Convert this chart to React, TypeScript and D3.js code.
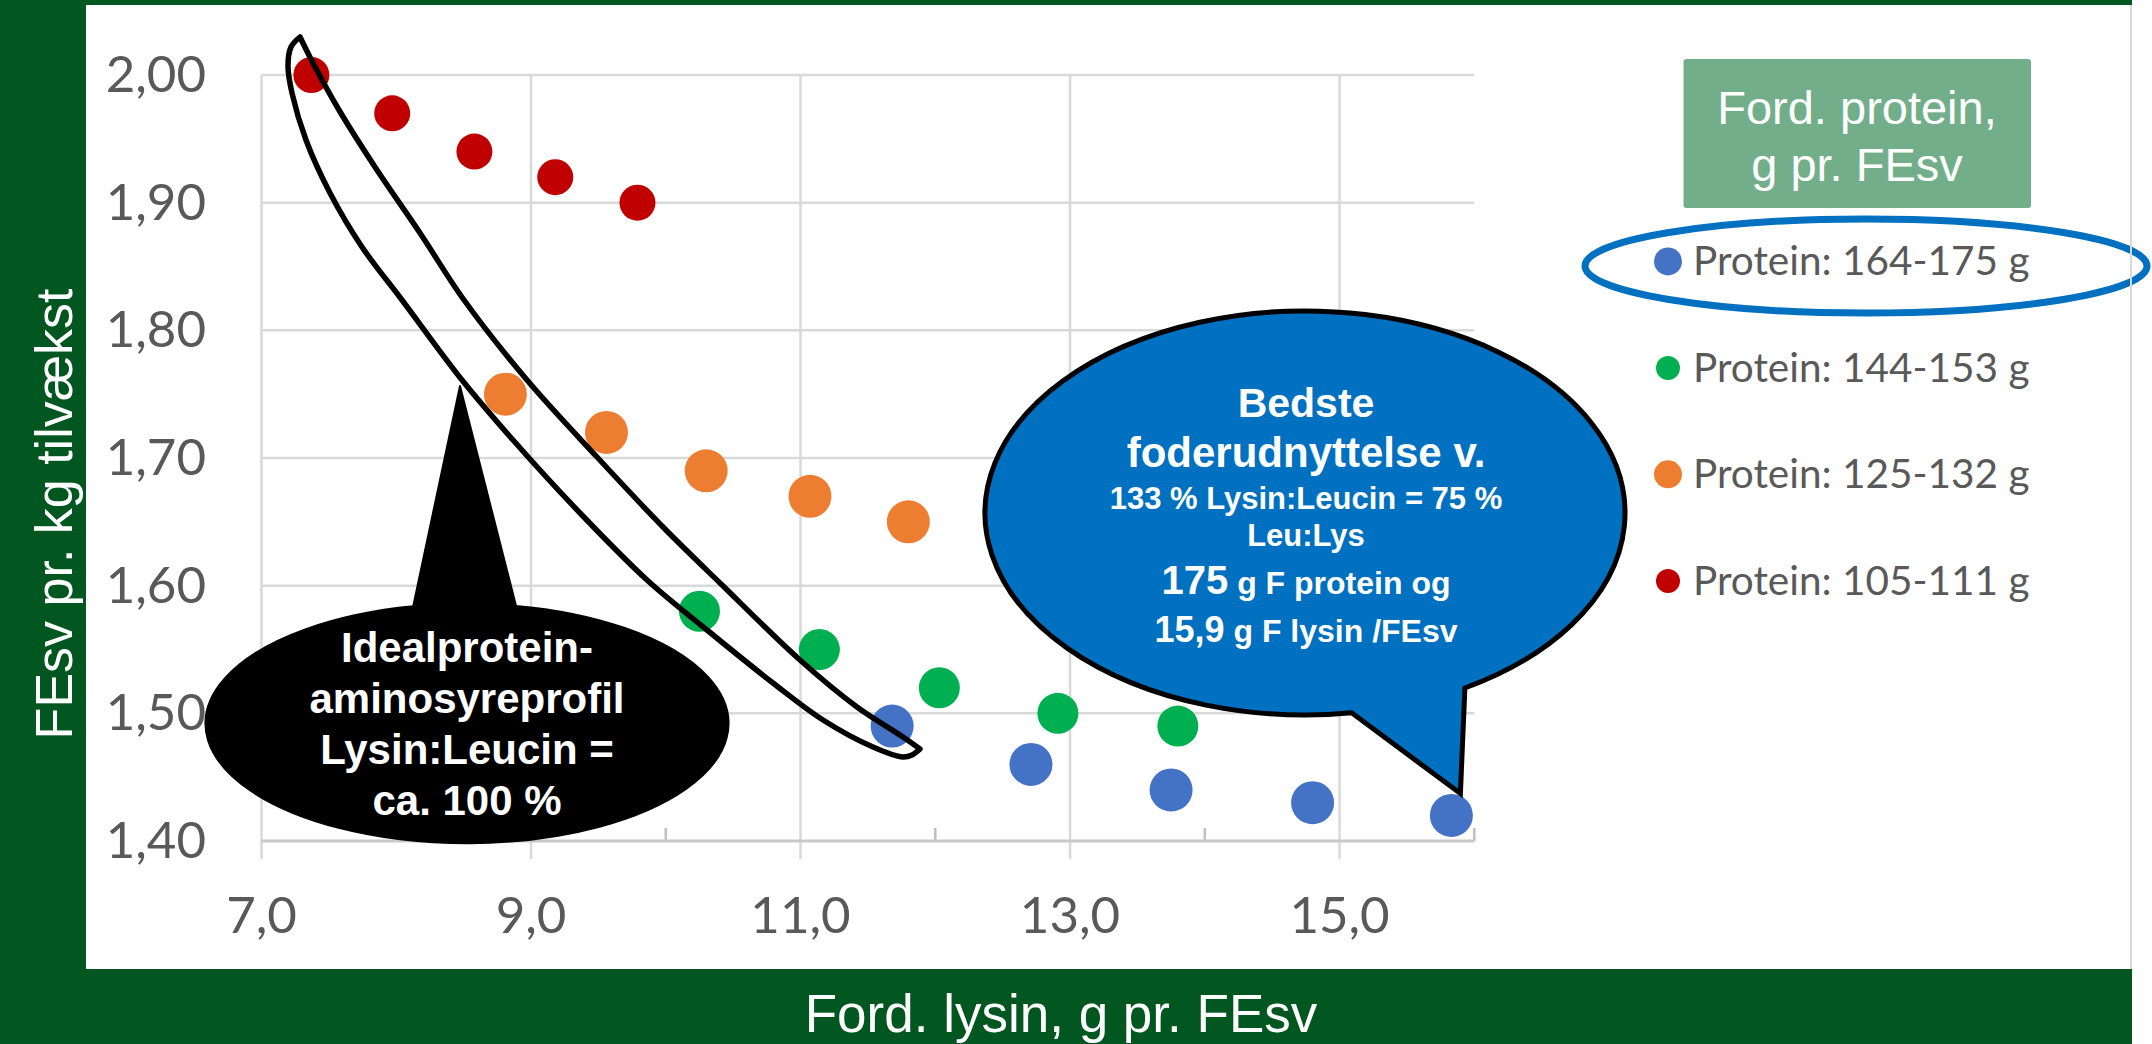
import React from "react";
import * as d3 from "d3";

// ---------- data ----------
const seriesNames = ["Protein: 164-175 g", "Protein: 144-153 g", "Protein: 125-132 g", "Protein: 105-111 g"];
const seriesColors = ["#4472C4", "#00B050", "#ED7D31", "#C00000"];

const blueX = [11.68, 12.71, 13.75, 14.8, 15.83];
const blueY = [1.49, 1.46, 1.44, 1.43, 1.42];
const greenX = [10.25, 11.14, 12.03, 12.91, 13.8];
const greenY = [1.58, 1.55, 1.52, 1.5, 1.49];
const orangeX = [8.81, 9.56, 10.3, 11.07, 11.8];
const orangeY = [1.75, 1.72, 1.69, 1.67, 1.65];
const redX = [7.37, 7.97, 8.58, 9.18, 9.79];
const redY = [2.0, 1.97, 1.94, 1.92, 1.9];

const xMajorTicks = [7, 9, 11, 13, 15];
const xMinorTicks = [8, 10, 12, 14, 16];
const yTicks = [1.4, 1.5, 1.6, 1.7, 1.8, 1.9, 2.0];

const xTitle = "Ford. lysin, g pr. FEsv";
const yTitle = "FEsv pr. kg tilvækst";
const legendTitle = ["Ford. protein,", "g pr. FEsv"];
const blackNote = ["Idealprotein-", "aminosyreprofil", "Lysin:Leucin =", "ca. 100 %"];

// ---------- layout ----------
const W = 2152;
const H = 1044;
const GREEN = "#02561F";
const GRID = "#D9D9D9";
const TICKTXT = "#595959";
const SANS = "'Liberation Sans', Arial, sans-serif";
const CAL = "Lato, 'Open Sans', sans-serif";

const x = d3.scaleLinear().domain([7, 16]).range([261.5, 1474.3]);
const y = d3.scaleLinear().domain([1.4, 2.0]).range([841, 75]);

const fmtY = (v: number) => v.toFixed(2).replace(".", ",");
const fmtX = (v: number) => v.toFixed(1).replace(".", ",");

const series = [
  { xs: blueX, ys: blueY, r: 21.5 },
  { xs: greenX, ys: greenY, r: 20.5 },
  { xs: orangeX, ys: orangeY, r: 21.5 },
  { xs: redX, ys: redY, r: 18 },
];

// lasso annotation shape (pixel layout)
const lassoRight: [number, number][] = [
  [300, 37], [313, 63], [339, 110], [375, 167], [420, 233], [464, 300], [527, 380],
  [597, 457], [663, 527], [720, 583], [800, 660], [857, 707], [903, 737], [920, 749],
];
const lassoLeft: [number, number][] = [
  [920, 749], [912, 755], [903, 757], [873, 747], [823, 720], [773, 683], [707, 630],
  [647, 580], [580, 513], [513, 440], [462, 380], [402, 300], [362, 247], [330, 193],
  [306, 140], [292, 93], [288, 66], [291, 47], [300, 37],
];

function calloutPath(
  cx: number, cy: number, rx: number, ry: number,
  b1: [number, number], tip: [number, number], b2: [number, number], sweep: number
) {
  const ang = (p: [number, number]) => Math.atan2((p[1] - cy) / ry, (p[0] - cx) / rx);
  const a1 = ang(b1);
  const a2 = ang(b2);
  const p1 = [cx + rx * Math.cos(a1), cy + ry * Math.sin(a1)];
  const p2 = [cx + rx * Math.cos(a2), cy + ry * Math.sin(a2)];
  return `M${p1[0]},${p1[1]} A${rx},${ry} 0 1 ${sweep} ${p2[0]},${p2[1]} L${tip[0]},${tip[1]} Z`;
}

export default function App() {
  const line = d3.line().curve(d3.curveCatmullRom.alpha(0.5));
  const lassoD = (line(lassoRight) || "") + (line(lassoLeft) || "").replace(/^M/, "L") + "Z";

  const lastBlue: [number, number] = [x(blueX[4]) + 9, y(blueY[4]) - 22];
  const blueCall = calloutPath(1305, 513, 320, 202, [1464, 687], lastBlue, [1351, 710], 0);
  const blackCall = calloutPath(467, 723.5, 261.5, 119.7, [516, 606], [460, 386], [413, 606], 1);

  const legendY = [261.4, 368, 474.3, 581];
  const legendR = [14, 12, 14, 12];

  return (
    <svg
      width={W}
      height={H}
      viewBox={`0 0 ${W} ${H}`}
      style={{ position: "absolute", left: 0, top: 0, display: "block" }}
    >
      <rect x={0} y={0} width={W} height={H} fill="#FFFFFF" />

      {/* gridlines */}
      {yTicks.filter((t) => t > 1.4).map((t) => (
        <line key={"hg" + t} x1={x(7)} x2={x(16)} y1={y(t)} y2={y(t)} stroke={GRID} strokeWidth={2.5} />
      ))}
      {xMajorTicks.map((t) => (
        <line key={"vg" + t} x1={x(t)} x2={x(t)} y1={y(2.0)} y2={y(1.4) + 18} stroke={GRID} strokeWidth={2.5} />
      ))}
      {xMinorTicks.map((t) => (
        <line key={"mt" + t} x1={x(t)} x2={x(t)} y1={y(1.4) - 13} y2={y(1.4)} stroke="#BFBFBF" strokeWidth={2.5} />
      ))}
      <line x1={x(7)} x2={x(16)} y1={y(1.4)} y2={y(1.4)} stroke="#C8C8C8" strokeWidth={3} />

      {/* tick labels */}
      {yTicks.map((t) => (
        <text key={"yl" + t} x={206} y={y(t) + 17} textAnchor="end" fontFamily={CAL} fontSize={51} fill={TICKTXT}>
          {fmtY(t)}
        </text>
      ))}
      {xMajorTicks.map((t) => (
        <text key={"xl" + t} x={x(t)} y={933} textAnchor="middle" fontFamily={CAL} fontSize={51} fill={TICKTXT}>
          {fmtX(t)}
        </text>
      ))}

      {/* points */}
      {series.map((s, si) =>
        s.xs.map((xv, i) => (
          <circle key={`p${si}-${i}`} cx={x(xv)} cy={y(s.ys[i])} r={s.r} fill={seriesColors[si]} />
        ))
      )}

      {/* lasso */}
      <path d={lassoD} fill="none" stroke="#000" strokeWidth={5.5} strokeLinejoin="round" />

      {/* black callout */}
      <path d={blackCall} fill="#000" stroke="#000" strokeWidth={2} strokeLinejoin="round" />
      {blackNote.map((t, i) => (
        <text key={"bn" + i} x={467} y={662 + i * 51} textAnchor="middle" fontFamily={SANS} fontWeight="bold" fontSize={42} fill="#FFF">
          {t}
        </text>
      ))}

      {/* blue callout */}
      <path d={blueCall} fill="#0070C0" stroke="#000" strokeWidth={5} strokeLinejoin="miter" />
      <g fontFamily={SANS} fontWeight="bold" fill="#FFF" textAnchor="middle">
        <text x={1306} y={417} fontSize={41}>Bedste</text>
        <text x={1306} y={467} fontSize={42}>foderudnyttelse v.</text>
        <text x={1306} y={509} fontSize={31}>133 % Lysin:Leucin = 75 %</text>
        <text x={1306} y={546} fontSize={31}>Leu:Lys</text>
        <text x={1306} y={594} fontSize={32}>
          <tspan fontSize={40}>175</tspan>
          <tspan> g F protein og</tspan>
        </text>
        <text x={1306} y={642} fontSize={32}>
          <tspan fontSize={36}>15,9</tspan>
          <tspan> g F lysin /FEsv</tspan>
        </text>
      </g>

      {/* legend */}
      <rect x={1683.5} y={59} width={347.5} height={149} rx={3} fill="#72AE8A" />
      {legendTitle.map((t, i) => (
        <text key={"lt" + i} x={1857} y={123.7 + i * 57} textAnchor="middle" fontFamily={SANS} fontSize={47} fill="#FFF">
          {t}
        </text>
      ))}
      {seriesNames.map((n, i) => (
        <g key={"lg" + i}>
          <circle cx={1668} cy={legendY[i]} r={legendR[i]} fill={seriesColors[i]} />
          <text x={1693} y={legendY[i] + 14} fontFamily={CAL} fontSize={40.5} fill={TICKTXT}>
            {n}
          </text>
        </g>
      ))}
      <ellipse cx={1866} cy={266} rx={281} ry={47} fill="none" stroke="#0070C0" strokeWidth={7} />

      {/* frame */}
      <line x1={2131} x2={2131} y1={5} y2={969} stroke={GRID} strokeWidth={2} />
      <rect x={0} y={0} width={86} height={H} fill={GREEN} />
      <rect x={0} y={0} width={2132} height={5} fill={GREEN} />
      <rect x={0} y={969} width={2132} height={H - 969} fill={GREEN} />

      {/* axis titles */}
      <text x={1061} y={1031.5} textAnchor="middle" fontFamily={SANS} fontSize={53} fill="#FFF">
        {xTitle}
      </text>
      <text
        transform="translate(71.7,514) rotate(-90)"
        textAnchor="middle"
        fontFamily={SANS}
        fontSize={52}
        fill="#FFF"
      >
        {yTitle}
      </text>
    </svg>
  );
}
